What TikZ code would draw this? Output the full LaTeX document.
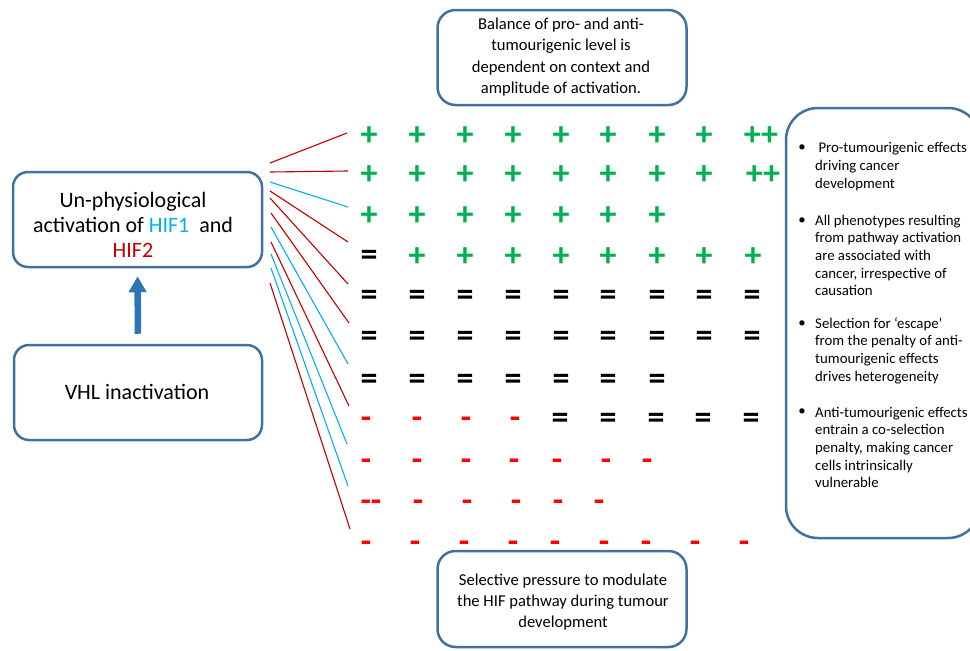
\documentclass[tikz,border=0pt]{standalone}
\usepackage{fontspec}
\setmainfont{Carlito}
\usetikzlibrary{arrows.meta}
\definecolor{boxblue}{HTML}{41719C}
\definecolor{arrowblue}{HTML}{2E75B6}
\definecolor{plusgreen}{HTML}{00B050}
\definecolor{minusred}{HTML}{FF0000}
\definecolor{linered}{HTML}{C00000}
\definecolor{linecyan}{HTML}{00B0F0}
\begin{document}
\begin{tikzpicture}[x=1pt,y=-1pt,
  roundbox/.style={draw=boxblue, line width=2.5pt, rounded corners=#1, inner sep=0pt},
  bigtext/.style={font=\fontsize{22}{25}\selectfont, align=center, inner sep=0pt},
  midtext/.style={font=\fontsize{16.6}{21.3}\selectfont, align=center, inner sep=0pt},
  bultext/.style={font=\fontsize{14.8}{17.7}\selectfont, align=left, inner sep=0pt, anchor=west},
  bulmark/.style={font=\fontsize{14.8}{17.7}\selectfont, inner sep=0pt},
  glyph/.style={font=\fontsize{34}{34}\selectfont\bfseries, inner sep=0pt},
  plusg/.style={glyph, text=plusgreen, yshift=-3pt},
  eqg/.style={glyph, text=black, yshift=-4pt},
  minusg/.style={glyph, text=minusred, yshift=-6pt},
  redline/.style={draw=linered, line width=1.1pt},
  cyanline/.style={draw=linecyan, line width=1.1pt},
  bigarrow/.style={draw=arrowblue, line width=6.5pt, -{Triangle[width=17pt,length=16pt]}}
]
\useasboundingbox (0,0) rectangle (970,651);

% boxes
\node[roundbox=15pt, minimum width=249pt, minimum height=95pt] (hifbox) at (137.5,219.5) {};
\node[roundbox=15pt, minimum width=248pt, minimum height=95pt] (vhlbox) at (138,392.5) {};
\node[roundbox=18pt, minimum width=249pt, minimum height=95pt] (topbox) at (562,57.5) {};
\node[roundbox=18pt, minimum width=249pt, minimum height=96pt] (botbox) at (562,599) {};
\node[roundbox=32pt, minimum width=194pt, minimum height=430pt] (effbox) at (883,323) {};

% texts
\node[bigtext] (hiftext) at (133,225) {Un-physiological\\activation of \textcolor{linecyan}{HIF1}\ \ and\\\textcolor{linered}{HIF2}};
\node[bigtext] (vhltext) at (137,392) {VHL inactivation};
\node[midtext] (toptext) at (561,57) {Balance of pro- and anti-\\tumourigenic level is\\dependent on context and\\amplitude of activation.};
\node[midtext] (bottext) at (563,602) {Selective pressure to modulate\\the HIF pathway during tumour\\development};

% bullets
\node[bulmark] (m1) at (802,148) {•};
\node[bultext] (t1) at (815,166.5) {\ Pro-tumourigenic effects\\driving cancer\\development};
\node[bulmark] (m2) at (802,221) {•};
\node[bultext] (t2) at (815,255.5) {All phenotypes resulting\\from pathway activation\\are associated with\\cancer, irrespective of\\causation};
\node[bulmark] (m3) at (802,324) {•};
\node[bultext] (t3) at (815,350.5) {Selection for ‘escape’\\from the penalty of anti-\\tumourigenic effects\\drives heterogeneity};
\node[bulmark] (m4) at (802,412) {•};
\node[bultext] (t4) at (815,447.5) {Anti-tumourigenic effects\\entrain a co-selection\\penalty, making cancer\\cells intrinsically\\vulnerable};

% arrow
\draw[bigarrow, shorten <=10pt, shorten >=8pt] (vhlbox.north) -- (hifbox.south);

% grid
\foreach \x [count=\i] in {369,417,465,513,561,608,657,704} {
  \node[plusg] (ra\i) at (\x,133) {+};
  \node[plusg] (rb\i) at (\x,172) {+};
}
\node[plusg] (ra9) at (761,133) {++};
\node[plusg] (rb9) at (763,172) {++};
\foreach \x [count=\i] in {369,417,465,513,561,608,657} {
  \node[plusg] (rc\i) at (\x,213) {+};
}
\node[eqg] (rd1) at (369,254) {=};
\foreach \x [count=\i from 2] in {417,465,513,561,608,657,704,753} {
  \node[plusg] (rd\i) at (\x,254) {+};
}
\foreach \x [count=\i] in {369,417,465,513,561,608,657,704,752} {
  \node[eqg] (re\i) at (\x,294) {=};
  \node[eqg] (rf\i) at (\x,335) {=};
}
\foreach \x [count=\i] in {369,417,465,513,561,608,657} {
  \node[eqg] (rg\i) at (\x,378) {=};
}
\foreach \x [count=\i] in {366,417,466,515} {
  \node[minusg] (rh\i) at (\x,417) {-};
}
\foreach \x [count=\i from 5] in {560,608,656,703,751} {
  \node[eqg] (rh\i) at (\x,417) {=};
}
\foreach \x [count=\i] in {366,417,466,514,557,606,647} {
  \node[minusg] (ri\i) at (\x,459) {-};
}
\node[minusg] (rj1) at (371,500) {-{}-};
\foreach \x [count=\i from 2] in {418,467,516,558,599} {
  \node[minusg] (rj\i) at (\x,500) {-};
}
\foreach \x [count=\i] in {366,415,464,513,555,604,646,695,744} {
  \node[minusg] (rk\i) at (\x,541) {-};
}

% fan of connectors
\coordinate (s1) at (270,163); \coordinate (e1) at (347,133);
\coordinate (s2) at (270,172); \coordinate (e2) at (348,171);
\coordinate (s3) at (270,182); \coordinate (e3) at (348,207);
\coordinate (s4) at (270,191); \coordinate (e4) at (348,242);
\coordinate (s5) at (270,198); \coordinate (e5) at (348,284);
\coordinate (s6) at (271,213); \coordinate (e6) at (349,323);
\coordinate (s7) at (271,227); \coordinate (e7) at (348,364);
\coordinate (s8) at (271,242); \coordinate (e8) at (349,406);
\coordinate (s9) at (271,254); \coordinate (e9) at (347,444);
\coordinate (s10) at (271,268); \coordinate (e10) at (348,486);
\coordinate (s11) at (270,283); \coordinate (e11) at (350,529);
\draw[redline] (s1) -- (e1);
\draw[redline] (s2) -- (e2);
\draw[cyanline] (s3) -- (e3);
\draw[redline] (s4) -- (e4);
\draw[redline] (s5) -- (e5);
\draw[redline] (s6) -- (e6);
\draw[cyanline] (s7) -- (e7);
\draw[redline] (s8) -- (e8);
\draw[cyanline] (s9) -- (e9);
\draw[cyanline] (s10) -- (e10);
\draw[redline] (s11) -- (e11);
\end{tikzpicture}
\end{document}
